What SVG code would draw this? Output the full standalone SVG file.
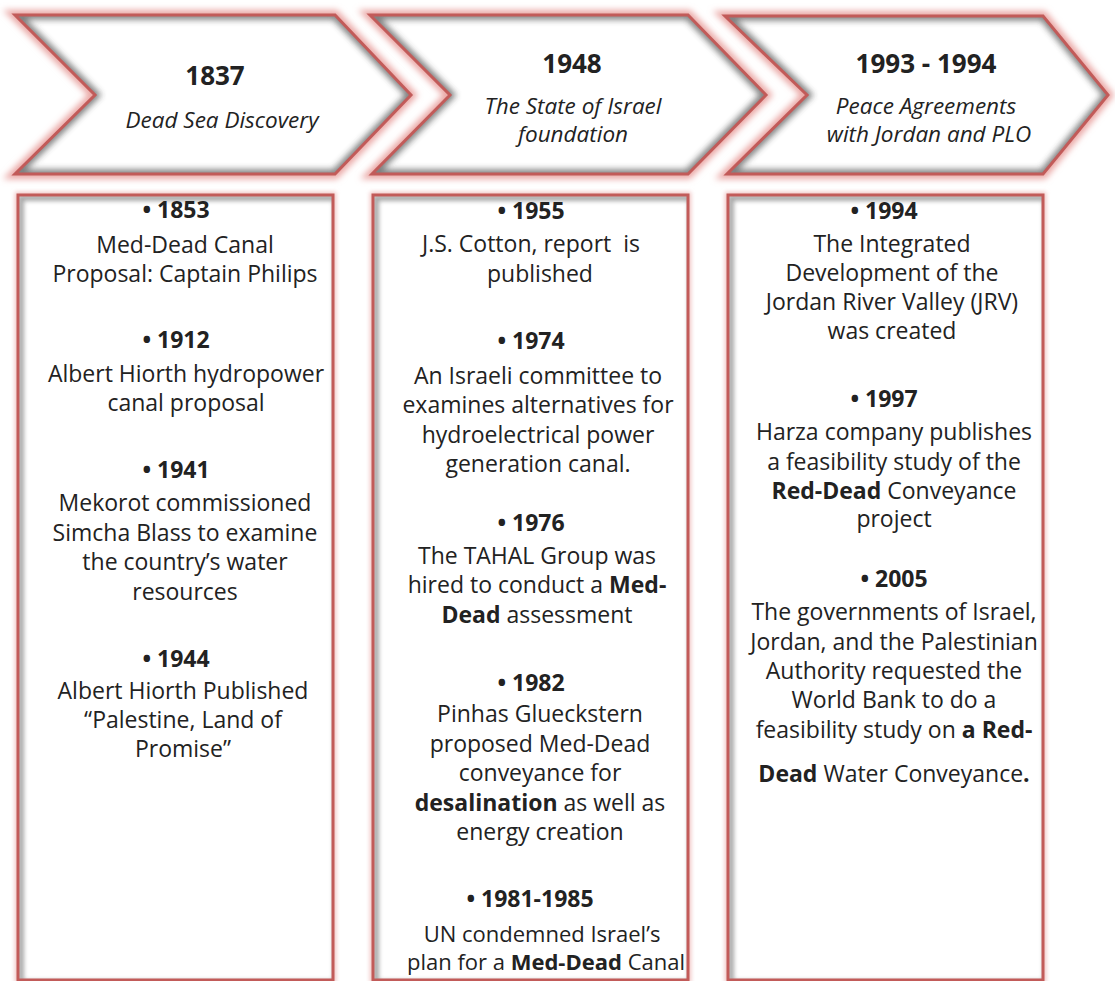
<svg xmlns="http://www.w3.org/2000/svg" width="1115" height="981" viewBox="0 0 1115 981">
<style>
text{font-family:"Open Sans","Liberation Sans",sans-serif;fill:#222;text-anchor:middle}
.b{font-size:23px}
.n{font-size:22px}
.y{font-size:23px;font-weight:bold}
.t{font-size:26px;font-weight:bold}
.s{font-size:22.5px;font-style:italic}
.k{font-weight:bold}
.glow{fill:none;stroke:#eaa7a5;stroke-width:10;filter:url(#blur3)}
.fillw{fill:#fff}
.inner{fill:none;stroke:#3a3a3a;stroke-width:9;opacity:.65;filter:url(#blur3)}
.edge{fill:none;stroke:#c25b59;stroke-width:3;stroke-linejoin:miter}
.bglow{fill:none;stroke:#f0c2c1;stroke-width:6;filter:url(#blur2)}
.binner{fill:none;stroke:#555;stroke-width:6;opacity:.5;filter:url(#blur2)}
</style>
<defs>
<filter id="blur3" x="-10%" y="-20%" width="120%" height="140%"><feGaussianBlur stdDeviation="3"/></filter>
<filter id="blur2" x="-10%" y="-10%" width="120%" height="120%"><feGaussianBlur stdDeviation="2"/></filter>
<path id="c1" d="M15,15 L335,15 L411,95 L335,174 L15,174 L95,95 Z"/>
<path id="c2" d="M370,15 L688,15 L766,95 L688,174 L372,174 L450,95 Z"/>
<path id="c3" d="M725,16 L1043,16 L1108,95 L1043,174 L727,174 L807,95 Z"/>
<rect id="r1" x="18" y="195" width="315" height="785"/>
<rect id="r2" x="373" y="195" width="315" height="785"/>
<rect id="r3" x="728" y="195" width="315" height="785"/>
<clipPath id="cc1"><use href="#c1"/></clipPath>
<clipPath id="cc2"><use href="#c2"/></clipPath>
<clipPath id="cc3"><use href="#c3"/></clipPath>
<clipPath id="cr1"><use href="#r1"/></clipPath>
<clipPath id="cr2"><use href="#r2"/></clipPath>
<clipPath id="cr3"><use href="#r3"/></clipPath>
</defs>
<rect width="1115" height="981" fill="#fff"/>

<g id="chevron-1837">
<use href="#c1" class="glow"/>
<use href="#c1" class="fillw"/>
<g clip-path="url(#cc1)"><use href="#c1" class="inner"/></g>
<use href="#c1" class="edge"/>
<text class="t" x="215" y="85">1837</text>
<text class="s" x="222" y="128">Dead Sea Discovery</text>
</g>

<g id="chevron-1948">
<use href="#c2" class="glow"/>
<use href="#c2" class="fillw"/>
<g clip-path="url(#cc2)"><use href="#c2" class="inner"/></g>
<use href="#c2" class="edge"/>
<text class="t" x="572" y="73">1948</text>
<text class="s" x="573" y="114">The State of Israel</text>
<text class="s" x="573" y="142">foundation</text>
</g>

<g id="chevron-1993">
<use href="#c3" class="glow"/>
<use href="#c3" class="fillw"/>
<g clip-path="url(#cc3)"><use href="#c3" class="inner"/></g>
<use href="#c3" class="edge"/>
<text class="t" x="926" y="73">1993 - 1994</text>
<text class="s" x="926" y="114">Peace Agreements</text>
<text class="s" x="929" y="142">with Jordan and PLO</text>
</g>

<g id="box-1">
<use href="#r1" class="bglow"/>
<use href="#r1" class="fillw"/>
<g clip-path="url(#cr1)"><use href="#r1" class="binner" transform="translate(3,3)"/></g>
<use href="#r1" class="edge"/>
<text class="y" x="176" y="218">• 1853</text>
<text class="b" x="185" y="253">Med-Dead Canal</text>
<text class="b" x="185" y="282">Proposal: Captain Philips</text>
<text class="y" x="176" y="348">• 1912</text>
<text class="b" x="186" y="382">Albert Hiorth hydropower</text>
<text class="b" x="186" y="411">canal proposal</text>
<text class="y" x="176" y="478">• 1941</text>
<text class="b" x="185" y="511">Mekorot commissioned</text>
<text class="b" x="185" y="541">Simcha Blass to examine</text>
<text class="b" x="185" y="570">the country’s water</text>
<text class="b" x="185" y="600">resources</text>
<text class="y" x="176" y="667">• 1944</text>
<text class="b" x="183" y="699">Albert Hiorth Published</text>
<text class="b" x="183" y="728">“Palestine, Land of</text>
<text class="b" x="183" y="757">Promise”</text>
</g>

<g id="box-2">
<use href="#r2" class="bglow"/>
<use href="#r2" class="fillw"/>
<g clip-path="url(#cr2)"><use href="#r2" class="binner" transform="translate(3,3)"/></g>
<use href="#r2" class="edge"/>
<text class="y" x="531" y="219">• 1955</text>
<text class="b" x="531" y="252" xml:space="preserve">J.S. Cotton, report  is</text>
<text class="b" x="540" y="282">published</text>
<text class="y" x="531" y="349">• 1974</text>
<text class="b" x="538" y="384">An Israeli committee to</text>
<text class="b" x="538" y="413">examines alternatives for</text>
<text class="b" x="538" y="443">hydroelectrical power</text>
<text class="b" x="538" y="472">generation canal.</text>
<text class="y" x="531" y="531">• 1976</text>
<text class="b" x="537" y="564">The TAHAL Group was</text>
<text class="b" x="537" y="593">hired to conduct a <tspan class="k">Med-</tspan></text>
<text class="b" x="537" y="623"><tspan class="k">Dead</tspan> assessment</text>
<text class="y" x="531" y="691">• 1982</text>
<text class="b" x="540" y="722">Pinhas Glueckstern</text>
<text class="b" x="540" y="752">proposed Med-Dead</text>
<text class="b" x="540" y="781">conveyance for</text>
<text class="b" x="540" y="811"><tspan class="k">desalination</tspan> as well as</text>
<text class="b" x="540" y="840">energy creation</text>
<text class="y" x="530" y="907">• 1981-1985</text>
<text class="n" x="542" y="942">UN condemned Israel’s</text>
<text class="n" x="546" y="970">plan for a <tspan class="k">Med-Dead</tspan> Canal</text>
</g>

<g id="box-3">
<use href="#r3" class="bglow"/>
<use href="#r3" class="fillw"/>
<g clip-path="url(#cr3)"><use href="#r3" class="binner" transform="translate(3,3)"/></g>
<use href="#r3" class="edge"/>
<text class="y" x="884" y="219">• 1994</text>
<text class="b" x="892" y="252">The Integrated</text>
<text class="b" x="892" y="281">Development of the</text>
<text class="b" x="892" y="310">Jordan River Valley (JRV)</text>
<text class="b" x="892" y="339">was created</text>
<text class="y" x="884" y="407">• 1997</text>
<text class="b" x="894" y="440">Harza company publishes</text>
<text class="b" x="894" y="470">a feasibility study of the</text>
<text class="b" x="894" y="499"><tspan class="k">Red-Dead</tspan> Conveyance</text>
<text class="b" x="894" y="527">project</text>
<text class="y" x="894" y="587">• 2005</text>
<text class="b" x="894" y="620">The governments of Israel,</text>
<text class="b" x="894" y="650">Jordan, and the Palestinian</text>
<text class="b" x="894" y="679">Authority requested the</text>
<text class="b" x="894" y="708">World Bank to do a</text>
<text class="b" x="894" y="738">feasibility study on <tspan class="k">a Red-</tspan></text>
<text class="b" x="894" y="782"><tspan class="k">Dead</tspan> Water Conveyance<tspan class="k">.</tspan></text>
</g>
</svg>
